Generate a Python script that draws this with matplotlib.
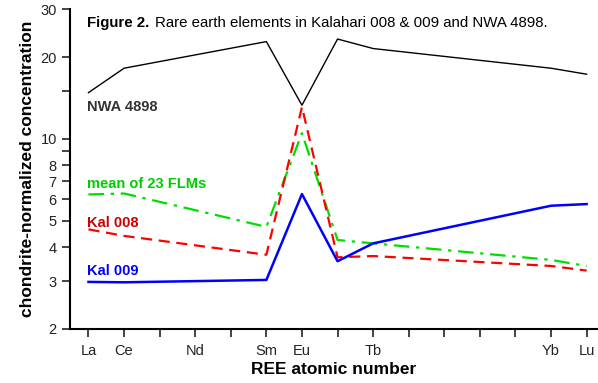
import numpy as np
import matplotlib.pyplot as plt
from matplotlib.ticker import FixedLocator, NullLocator

plt.rcParams['font.family'] = ['Liberation Sans', 'DejaVu Sans']

# atomic numbers of the measured elements (La Ce Sm Eu Gd Tb Yb Lu)
atomic_no = [57, 58, 62, 63, 64, 65, 70, 71]

nwa_4898 = [14.8, 18.2, 22.8, 13.3, 23.3, 21.5, 18.2, 17.3]
flm_mean = [6.25, 6.3, 4.75, 10.5, 4.25, 4.13, 3.59, 3.41]
kal_008 = [4.65, 4.40, 3.75, 13.1, 3.67, 3.71, 3.41, 3.28]
kal_009 = [2.98, 2.97, 3.03, 6.27, 3.55, 4.13, 5.68, 5.76]

# x tick labels (every atomic number 57..71 gets a tick)
tick_no = list(range(57, 72))
tick_names = {57: 'La', 58: 'Ce', 60: 'Nd', 62: 'Sm', 63: 'Eu', 65: 'Tb', 70: 'Yb', 71: 'Lu'}

y_ticks = [2, 3, 4, 5, 6, 7, 8, 9, 10, 15, 20, 30]
y_labels = ['2', '3', '4', '5', '6', '7', '8', '', '10', '', '20', '30']


def main():
    fig = plt.figure(figsize=(5.98, 3.83), dpi=100)
    ax = fig.add_axes([0.117, 0.141, 0.883, 0.835])

    ax.plot(atomic_no, nwa_4898, color='black', lw=1.0)
    ax.plot(atomic_no, flm_mean, color='#00dd00', lw=1.6, dashes=(7, 3, 1.5, 3))
    ax.plot(atomic_no, kal_008, color='#ff0000', lw=1.6, dashes=(5, 3))
    ax.plot(atomic_no, kal_009, color='#0000ff', lw=1.8)

    ax.set_yscale('log')
    ax.set_ylim(2, 30)
    ax.set_xlim(56.48, 71.32)

    ax.yaxis.set_major_locator(FixedLocator(y_ticks))
    ax.yaxis.set_minor_locator(NullLocator())
    ax.set_yticklabels(y_labels)
    ax.set_xticks(tick_no)
    ax.set_xticklabels([tick_names.get(n, '') for n in tick_no])

    for s in ['top', 'right']:
        ax.spines[s].set_visible(False)
    for s in ['left', 'bottom']:
        ax.spines[s].set_linewidth(1.5)
    ax.tick_params(axis='both', direction='out', length=6, width=1.2, labelsize=10.5, colors='#222222')
    ax.tick_params(axis='x', pad=5)

    ax.set_ylabel('chondrite-normalized concentration', fontsize=12.5, fontweight='bold')
    ax.set_xlabel('REE atomic number', fontsize=12.5, fontweight='bold', labelpad=3)

    # series labels
    ax.text(56.95, 12.7, 'NWA 4898', color='#333333', fontsize=10.5, fontweight='bold')
    ax.text(56.95, 6.6, 'mean of 23 FLMs', color='#00cc00', fontsize=10.5, fontweight='bold')
    ax.text(56.95, 4.75, 'Kal 008', color='#cc0000', fontsize=10.5, fontweight='bold')
    ax.text(56.95, 3.17, 'Kal 009', color='#0000ff', fontsize=10.5, fontweight='bold')

    fig_txt = ax.text(56.95, 25.8, 'Figure 2.', fontsize=10.8, fontweight='bold')
    ax.annotate('Rare earth elements in Kalahari 008 & 009 and NWA 4898.',
                xy=(1, 0), xycoords=fig_txt, xytext=(4, 0), textcoords='offset points',
                fontsize=10.8, va='bottom')

    fig.savefig('out.png', dpi=100)


if __name__ == '__main__':
    main()
